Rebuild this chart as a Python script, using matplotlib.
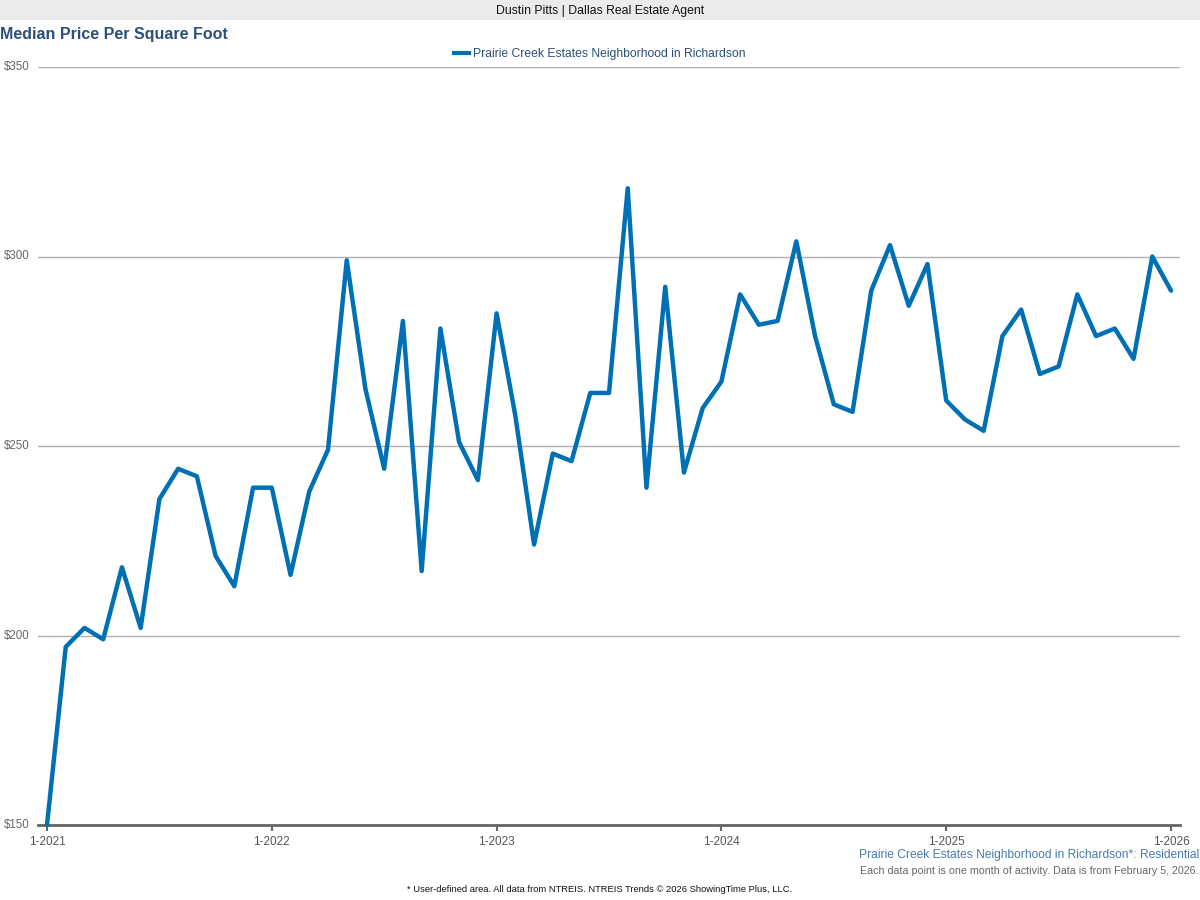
import matplotlib
matplotlib.use("Agg")
import matplotlib.pyplot as plt
from matplotlib.lines import Line2D
from matplotlib.patches import Rectangle

plt.rcParams['font.family'] = ['Liberation Sans', 'DejaVu Sans']

values = [150, 197, 202, 199, 218, 202, 236, 244, 242, 221, 213, 239,
          239, 216, 238, 249, 299, 265, 244, 283, 217, 281, 251, 241,
          285, 258, 224, 248, 246, 264, 264, 318, 239, 292, 243, 260,
          267, 290, 282, 283, 304, 279, 261, 259, 291, 303, 287, 298,
          262, 257, 254, 279, 286, 269, 271, 290, 279, 281, 273, 300,
          291]
tick_labels = ["1-2021", "1-2022", "1-2023", "1-2024", "1-2025", "1-2026"]
y_ticks = [150, 200, 250, 300, 350]
series_name = "Prairie Creek Estates Neighborhood in Richardson"

months = list(range(len(values)))
line_color = "#0070b4"

fig = plt.figure(figsize=(12, 9), dpi=100)
fig.patch.set_facecolor("white")

# top banner
fig.patches.append(Rectangle((0, 1 - 20 / 900), 1, 20 / 900, transform=fig.transFigure,
                             facecolor="#ebebeb", edgecolor="none", zorder=0))
fig.text(0.5, 1 - 11 / 900, "Dustin Pitts | Dallas Real Estate Agent", ha="center", va="center",
         fontsize=8.8, color="#111111")
fig.text(0.0, 1 - 34 / 900, "Median Price Per Square Foot", ha="left", va="center",
         fontsize=11.5, fontweight="bold", color="#2b5078")

ax = fig.add_axes([38 / 1200, 1 - 825 / 900, (1180 - 38) / 1200, (825 - 67) / 900])
ax.plot(months, values, color=line_color, linewidth=3.2, solid_joinstyle="round",
        solid_capstyle="round", clip_on=False, zorder=3)
ax.set_xlim(-0.48, 60.48)
ax.set_ylim(150, 350)
ax.set_yticks(y_ticks)
ax.set_yticklabels([f"${v}" for v in y_ticks])
ax.set_xticks([0, 12, 24, 36, 48, 60])
ax.set_xticklabels(tick_labels)
ax.grid(axis="y", color="#b0b0b0", linewidth=1.0)
ax.set_axisbelow(True)
for s in ["top", "right", "left"]:
    ax.spines[s].set_visible(False)
ax.spines["bottom"].set_color("#666666")
ax.spines["bottom"].set_linewidth(2.0)
ax.tick_params(axis="y", length=0, pad=6, labelsize=8.3, labelcolor="#666666")
ax.tick_params(axis="x", length=4, width=1.5, color="#666666", pad=4, labelsize=8.5,
               labelcolor="#555555")
for lbl in ax.get_yticklabels():
    lbl.set_verticalalignment("center")

handle = Line2D([0], [0], color=line_color, linewidth=3.0)
fig.legend([handle], [series_name], loc="center", bbox_to_anchor=(0.5, 1 - 54 / 900),
           frameon=False, fontsize=8.7, handlelength=1.2, handletextpad=0.4,
           labelcolor="#2b5078")

fig.text(1199 / 1200, 1 - 855 / 900, "Prairie Creek Estates Neighborhood in Richardson*: Residential",
         ha="right", va="center", fontsize=8.67, color="#4a7aaa")
fig.text(1199 / 1200, 1 - 871 / 900,
         "Each data point is one month of activity. Data is from February 5, 2026.",
         ha="right", va="center", fontsize=7.66, color="#666666")
fig.text(0.5, 1 - 889 / 900,
         "* User-defined area. All data from NTREIS. NTREIS Trends \u00a9 2026 ShowingTime Plus, LLC.",
         ha="center", va="center", fontsize=6.76, color="#111111")

fig.savefig("out.png", dpi=100)
